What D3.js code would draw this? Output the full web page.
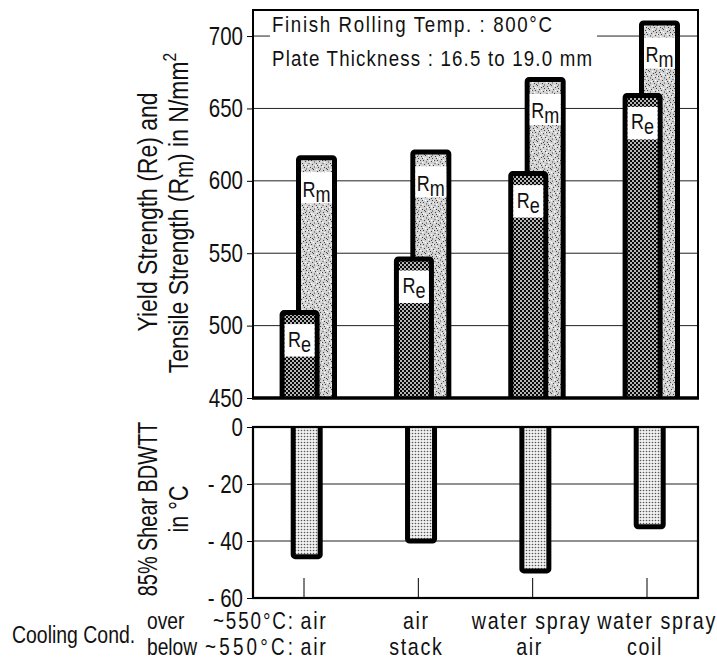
<!DOCTYPE html>
<html><head><meta charset="utf-8">
<script src="https://cdn.jsdelivr.net/npm/d3@7"></script>
<style>
body{margin:0;background:#fff}
text{font-family:"Liberation Sans",Arial,sans-serif;fill:#111}
</style></head><body>
<svg id="chart" width="717" height="662"></svg>
<script>
// ---- data ----
const categories = ["g1","g2","g3","g4"];
const coolingOver = ["air","air","water spray","water spray"];
const coolingBelow = ["air","stack","air","coil"];
const yieldStrength = [509, 546, 605, 659];     // Re, N/mm2
const tensileStrength = [616, 620, 670, 709];   // Rm, N/mm2
const shearBDWTT = [-45.5, -40, -50.5, -35];    // 85% shear BDWTT, °C
const strengthTicks = [450, 500, 550, 600, 650, 700];
const bdwttTicks = [0, -20, -40, -60];
const titleLines = ["Finish Rolling Temp. : 800°C", "Plate Thickness : 16.5 to 19.0 mm"];

// ---- layout ----
const svg = d3.select("#chart");
const L = 253, R = 698;
const x = d3.scalePoint().domain(categories).range([304, 647]);
const yTop = d3.scaleLinear().domain([450, 718]).range([398, 10]);
const yBot = d3.scaleLinear().domain([-60, 0]).range([598, 427]);

// condensed text helper
function txt(parent, px, py, str, size, sx, anchor, rot) {
  return parent.append("text")
    .attr("transform", `translate(${px},${py})` + (rot ? ` rotate(${rot})` : "") + ` scale(${sx},1)`)
    .attr("text-anchor", anchor || "start").attr("font-size", size).text(str);
}

const defs = svg.append("defs");
// Re: dark cross-hatch
const pRe = defs.append("pattern").attr("id","pRe").attr("patternUnits","userSpaceOnUse").attr("width",4).attr("height",4);
pRe.append("rect").attr("width",4).attr("height",4).attr("fill","#0a0a0a");
pRe.append("circle").attr("cx",1).attr("cy",1).attr("r",0.95).attr("fill","#fff");
pRe.append("circle").attr("cx",3).attr("cy",3).attr("r",0.95).attr("fill","#fff");
// Rm: light stipple
const pRm = defs.append("pattern").attr("id","pRm").attr("patternUnits","userSpaceOnUse").attr("width",14).attr("height",14);
pRm.append("rect").attr("width",14).attr("height",14).attr("fill","#d2d2d2");
const stipDark = [[1,2],[5,1],[9,3],[12,0.5],[3,6],[7,5],[11,7],[0.5,9],[4,10],[8,9],[13,11],[2,13],[6,12.5],[10,13],[6,7.5],[12,4],[2,4],[9,11],[4,0],[11,2],[0,6]];
const stipLight = [[3,3],[8,1],[11,10],[2,8],[7,11],[13,6],[5,4],[9,6],[0,12]];
stipDark.forEach(p => pRm.append("rect").attr("x",p[0]).attr("y",p[1]).attr("width",1).attr("height",1).attr("fill","#444"));
stipLight.forEach(p => pRm.append("rect").attr("x",p[0]).attr("y",p[1]).attr("width",1.3).attr("height",1.3).attr("fill","#fff"));
// BDWTT: fine dots
const pB = defs.append("pattern").attr("id","pB").attr("patternUnits","userSpaceOnUse").attr("width",3).attr("height",3);
pB.append("rect").attr("width",3).attr("height",3).attr("fill","#f0f0f0");
pB.append("circle").attr("cx",1.5).attr("cy",1.5).attr("r",0.8).attr("fill","#555");

defs.append("clipPath").attr("id","clipTop").append("rect")
  .attr("x",L).attr("y",yTop.range()[1]).attr("width",R-L).attr("height",yTop.range()[0]-yTop.range()[1]);
defs.append("clipPath").attr("id","clipBot").append("rect")
  .attr("x",L).attr("y",yBot.range()[1]).attr("width",R-L).attr("height",yBot.range()[0]-yBot.range()[1]);

// ================= TOP PANEL =================
const gTop = svg.append("g");
gTop.selectAll("line.grid").data(strengthTicks.filter(t => t > 450)).join("line")
  .attr("x1",L).attr("x2",R).attr("y1",d=>yTop(d)).attr("y2",d=>yTop(d))
  .attr("stroke","#222").attr("stroke-width",1);

// title box
gTop.append("rect").attr("x",270).attr("y",14).attr("width",327).attr("height",58).attr("fill","#fff");
const titleLen = [280, 320];
titleLines.forEach((s,i) => {
  txt(gTop, 272, 32 + i*34, s, 22, 0.85, "start")
    .attr("textLength", titleLen[i]/0.85).attr("lengthAdjust","spacing");
});

const barsTop = gTop.append("g").attr("clip-path","url(#clipTop)");
const RmOff = 12.5, ReOff = -4.4, RmW = 36, ReW = 35, SW = 5;
function subLabel(parent, cx, by, main, sub) {
  const t = parent.append("text").attr("transform",`translate(${cx},${by}) scale(0.82,1)`)
    .attr("text-anchor","middle").attr("font-size",22);
  t.append("tspan").text(main);
  t.append("tspan").attr("dy",5).text(sub);
}
// Rm bars
categories.forEach((c,i) => {
  const cx = x(c) + RmOff, yt = yTop(tensileStrength[i]);
  barsTop.append("rect").attr("x",cx-RmW/2).attr("y",yt).attr("width",RmW)
    .attr("height",yTop(450)+6-yt).attr("rx",2)
    .attr("fill","url(#pRm)").attr("stroke","#000").attr("stroke-width",SW);
  barsTop.append("rect").attr("x",cx-RmW/2+SW/2).attr("y",yt+14.5).attr("width",RmW-SW)
    .attr("height",31).attr("fill","#fff");
  subLabel(barsTop, cx, yt+39, "R", "m");
});
// Re bars
categories.forEach((c,i) => {
  const cx = x(c) + ReOff, yt = yTop(yieldStrength[i]);
  barsTop.append("rect").attr("x",cx-ReW/2).attr("y",yt).attr("width",ReW)
    .attr("height",yTop(450)+6-yt).attr("rx",2)
    .attr("fill","url(#pRe)").attr("stroke","#000").attr("stroke-width",SW);
  barsTop.append("rect").attr("x",cx-ReW/2+SW/2).attr("y",yt+11.5).attr("width",ReW-SW)
    .attr("height",32.5).attr("fill","#fff");
  subLabel(barsTop, cx, yt+34, "R", "e");
});

// frame
gTop.append("rect").attr("x",L).attr("y",yTop.range()[1]).attr("width",R-L)
  .attr("height",yTop.range()[0]-yTop.range()[1]).attr("fill","none").attr("stroke","#000").attr("stroke-width",2);
gTop.append("line").attr("x1",L-1).attr("x2",R+1).attr("y1",yTop(450)).attr("y2",yTop(450))
  .attr("stroke","#000").attr("stroke-width",3.5);

function styleAxis(ax) {
  ax.select(".domain").remove();
  ax.selectAll(".tick line").attr("stroke","#000");
  ax.selectAll(".tick text").attr("font-size",25).attr("font-family",null).attr("fill","#111")
    .attr("x",0).attr("transform","translate(-10,0) scale(0.82,1)");
}
const axTop = gTop.append("g").attr("transform",`translate(${L},0)`)
  .call(d3.axisLeft(yTop).tickValues(strengthTicks).tickSize(6).tickPadding(4));
styleAxis(axTop);

// ================= BOTTOM PANEL =================
const gBot = svg.append("g");
gBot.selectAll("line.grid").data(bdwttTicks.filter(t => t < 0 && t > -60)).join("line")
  .attr("x1",L).attr("x2",R).attr("y1",d=>yBot(d)).attr("y2",d=>yBot(d))
  .attr("stroke","#222").attr("stroke-width",1);
const barsBot = gBot.append("g").attr("clip-path","url(#clipBot)");
const BW = 27, BOff = 2.7;
barsBot.selectAll("rect").data(categories).join("rect")
  .attr("x",c=>x(c)+BOff-BW/2).attr("y",yBot(0)-6).attr("width",BW)
  .attr("height",(c,i)=>yBot(shearBDWTT[i])-yBot(0)+6).attr("rx",2)
  .attr("fill","url(#pB)").attr("stroke","#000").attr("stroke-width",SW);
// category ticks
gBot.selectAll("line.ctick").data(categories).join("line")
  .attr("x1",c=>x(c)).attr("x2",c=>x(c)).attr("y1",yBot(-60)).attr("y2",yBot(-60)-20)
  .attr("stroke","#000").attr("stroke-width",1);
gBot.append("rect").attr("x",L).attr("y",yBot.range()[1]).attr("width",R-L)
  .attr("height",yBot.range()[0]-yBot.range()[1]).attr("fill","none").attr("stroke","#000").attr("stroke-width",2.2);
const axBot = gBot.append("g").attr("transform",`translate(${L},0)`)
  .call(d3.axisLeft(yBot).tickValues(bdwttTicks).tickSize(6).tickPadding(4)
    .tickFormat(d => d === 0 ? "0" : "- " + Math.abs(d)));
styleAxis(axBot);

// ================= AXIS TITLES =================
txt(svg, 157, 212, "Yield Strength (Re) and", 28, 0.82, "middle", -90);
const t2 = svg.append("text").attr("transform","translate(188,213) rotate(-90) scale(0.82,1)")
  .attr("text-anchor","middle").attr("font-size",28);
t2.append("tspan").text("Tensile Strength (R");
t2.append("tspan").attr("dy",5).attr("font-size",25).text("m");
t2.append("tspan").attr("dy",-5).text(") in N/mm");
t2.append("tspan").attr("dy",-12).attr("font-size",19).text("2");
txt(svg, 157, 509, "85% Shear BDWTT", 28, 0.71, "middle", -90);
txt(svg, 188, 509, "in °C", 28, 0.77, "middle", -90);

// ================= COOLING CONDITIONS =================
const lab = svg.append("g");
txt(lab, 12, 643, "Cooling Cond.", 24, 0.81, "start");
txt(lab, 147, 629, "over", 24, 0.8, "start");
txt(lab, 147, 655, "below", 24, 0.8, "start");
txt(lab, 293, 629, "~550°C:", 23, 0.82, "end").attr("textLength", 80/0.82).attr("lengthAdjust","spacing");
txt(lab, 293, 655, "~550°C:", 23, 0.82, "end").attr("textLength", 88/0.82).attr("lengthAdjust","spacing");
const overOff = [10, -2, -1, 10], belowOff = [10, -2, -3, -2];
categories.forEach((c,i) => {
  txt(lab, x(c)+overOff[i], 629, coolingOver[i], 24, 0.82, "middle").attr("letter-spacing",2);
  txt(lab, x(c)+belowOff[i], 655, coolingBelow[i], 24, 0.82, "middle").attr("letter-spacing",2);
});
</script>
</body></html>
